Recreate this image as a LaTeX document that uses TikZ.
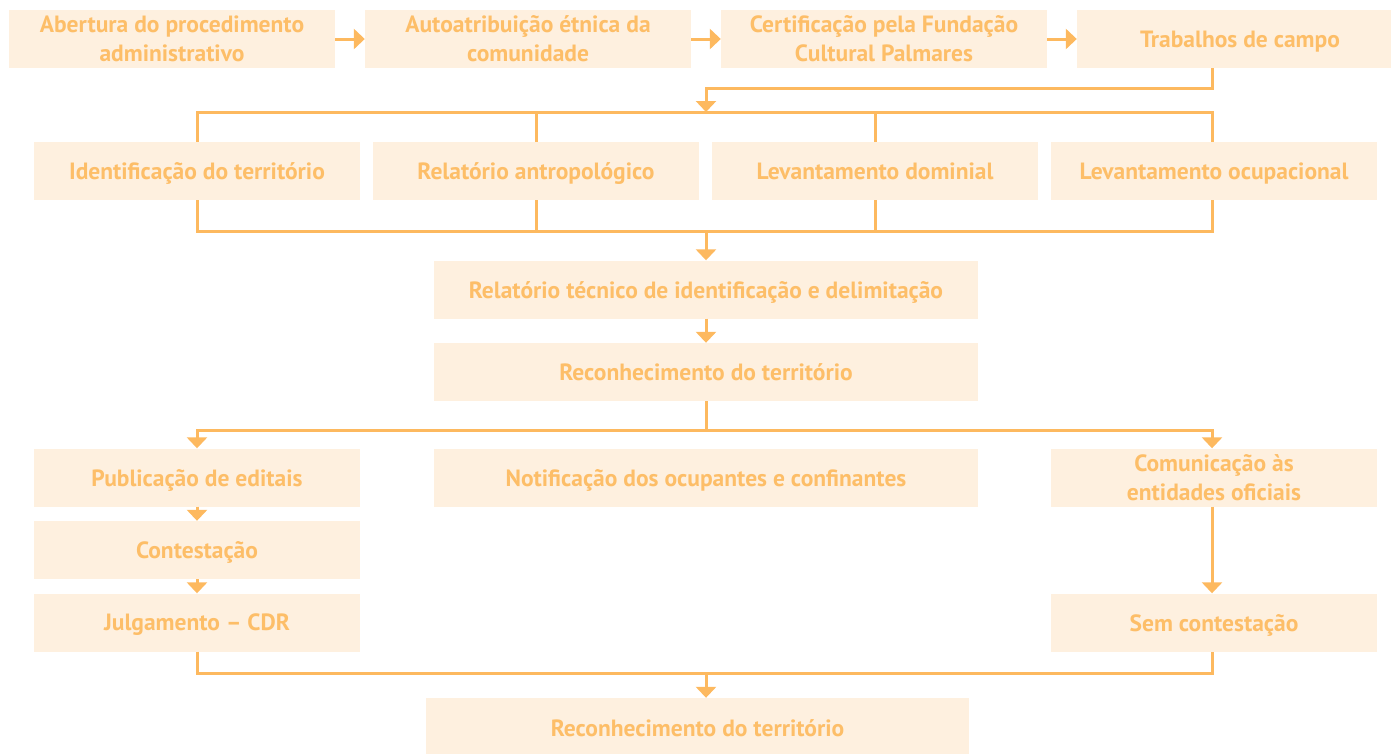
\documentclass[tikz,border=0pt]{standalone}
\usepackage{fontspec}
\setmainfont{PT Sans}
\usetikzlibrary{arrows.meta}
\definecolor{boxfill}{HTML}{FEF0DF}
\definecolor{lineor}{HTML}{FDB95F}
\definecolor{textor}{HTML}{FDBE68}
\tikzstyle{stage}=[fill=boxfill, text=textor, align=center,
    font=\bfseries\fontsize{23.5}{29}\selectfont, text depth=0pt,
    minimum width=326pt, minimum height=58pt, inner sep=0pt]
\tikzstyle{wide}=[stage, minimum width=544pt]
\tikzstyle{link}=[draw=lineor, line width=3pt]
\tikzstyle{flow}=[link, -{Triangle[width=20pt,length=11pt]}]

\begin{document}
\begin{tikzpicture}[x=1pt,y=-1pt]
    \useasboundingbox (0,0) rectangle (1391,753);
    % first row
    \node (open) [stage] at (172,39) {Abertura do procedimento\\administrativo};
    \node (self) [stage] at (528,39) {Autoatribuição étnica da\\comunidade};
    \node (cert) [stage] at (884,39) {Certificação pela Fundação\\Cultural Palmares};
    \node (field) [stage] at (1240,39) {Trabalhos de campo};
    \draw[flow] (open) -- (self);
    \draw[flow] (self) -- (cert);
    \draw[flow] (cert) -- (field);
    % studies
    \node (ident) [stage] at (197,171) {Identificação do território};
    \node (anthro) [stage] at (536,171) {Relatório antropológico};
    \node (domin) [stage] at (875,171) {Levantamento dominial};
    \node (occup) [stage] at (1214,171) {Levantamento ocupacional};
    \coordinate (turn) at (1212,88);
    \coordinate (busA) at (706,112);
    \coordinate (busB) at (706,231);
    \draw[flow] (field.south -| turn) -- (turn) -| (busA);
    \draw[link] (ident.north) |- (busA) -| (occup.north -| turn);
    \draw[link] (anthro.north) -- (anthro.north |- busA);
    \draw[link] (domin.north) -- (domin.north |- busA);
    \draw[link] (ident.south) |- (busB) -| (occup.south -| turn);
    \draw[link] (anthro.south) -- (anthro.south |- busB);
    \draw[link] (domin.south) -- (domin.south |- busB);
    % report
    \node (rtid) [wide] at (706,289.5) {Relatório técnico de identificação e delimitação};
    \node (recog) [wide] at (706,372) {Reconhecimento do território};
    \draw[flow] (busB) -- (rtid);
    \draw[flow] (rtid) -- (recog);
    % publicity
    \node (pub) [stage] at (197,477.5) {Publicação de editais};
    \node (notif) [wide] at (706,477.5) {Notificação dos ocupantes e confinantes};
    \node (comm) [stage] at (1214,477.5) {Comunicação às\\entidades oficiais};
    \node (contest) [stage] at (197,550) {Contestação};
    \node (judge) [stage] at (197,622.5) {Julgamento – CDR};
    \node (nocont) [stage] at (1214,622.5) {Sem contestação};
    \coordinate (busC) at (706,430);
    \coordinate (busD) at (706,673);
    \draw[link] (recog) -- (busC);
    \draw[flow] (busC) -| (pub.north);
    \draw[flow] (busC) -| (comm.north -| turn);
    \draw[flow] (pub) -- (contest);
    \draw[flow] (contest) -- (judge);
    \draw[flow] (comm.south -| turn) -- (nocont.north -| turn);
    % final
    \node (final) [stage, minimum width=543pt, minimum height=60pt] at (697.5,728) {Reconhecimento do território};
    \draw[link] (judge.south) |- (busD) -| (nocont.south -| turn);
    \draw[flow] (busD) -- (busD |- final.north);
\end{tikzpicture}
\end{document}
